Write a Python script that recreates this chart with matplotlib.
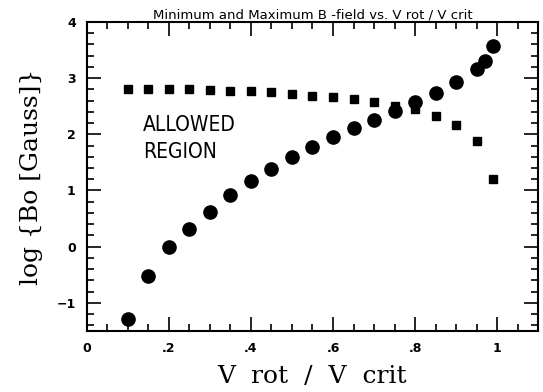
import matplotlib
matplotlib.use("Agg")
import matplotlib.pyplot as plt
from matplotlib.ticker import MultipleLocator, FixedLocator

# data
circ_x = [0.10, 0.15, 0.20, 0.25, 0.30, 0.35, 0.40, 0.45, 0.50, 0.55, 0.60, 0.65,
          0.70, 0.75, 0.80, 0.85, 0.90, 0.95, 0.97, 0.99]
circ_y = [-1.29, -0.52, 0.00, 0.31, 0.61, 0.91, 1.16, 1.38, 1.59, 1.77, 1.95, 2.11,
          2.25, 2.41, 2.57, 2.73, 2.93, 3.16, 3.30, 3.57]
sq_x = [0.10, 0.15, 0.20, 0.25, 0.30, 0.35, 0.40, 0.45, 0.50, 0.55, 0.60, 0.65,
        0.70, 0.75, 0.80, 0.85, 0.90, 0.95, 0.99]
sq_y = [2.81, 2.81, 2.81, 2.80, 2.79, 2.77, 2.77, 2.75, 2.71, 2.69, 2.66, 2.62,
        2.57, 2.50, 2.45, 2.32, 2.16, 1.88, 1.20]
xtick_vals = [0, 0.2, 0.4, 0.6, 0.8, 1.0]
xtick_labels = ["0", ".2", ".4", ".6", ".8", "1"]
ytick_vals = [-1, 0, 1, 2, 3, 4]
ytick_labels = ["\u22121", "0", "1", "2", "3", "4"]

fig = plt.figure(figsize=(5.43, 3.92), dpi=100)
ax = fig.add_axes([0.160, 0.156, 0.831, 0.788])

ax.plot(circ_x, circ_y, 'o', color='black', markersize=9.5, linestyle='none')
ax.plot(sq_x, sq_y, 's', color='black', markersize=6.3, linestyle='none')

ax.set_xlim(0, 1.1)
ax.set_ylim(-1.5, 4)

ax.xaxis.set_major_locator(FixedLocator(xtick_vals))
ax.set_xticklabels(xtick_labels, fontsize=9, fontweight='bold')
ax.xaxis.set_minor_locator(MultipleLocator(0.05))
ax.yaxis.set_major_locator(FixedLocator(ytick_vals))
ax.set_yticklabels(ytick_labels, fontsize=9, fontweight='bold')
ax.yaxis.set_minor_locator(MultipleLocator(0.2))

ax.tick_params(which='both', direction='in', top=True, right=True, width=1.2)
ax.tick_params(which='major', length=10, pad=8)
ax.tick_params(which='minor', length=5)
for s in ax.spines.values():
    s.set_linewidth(1.5)

ax.set_xlabel("V  rot  /  V  crit", fontsize=18, family='DejaVu Serif', labelpad=7)
ax.set_ylabel("log {Bo [Gauss]}", fontsize=18, family='DejaVu Serif', labelpad=10)
ax.set_title("Minimum and Maximum B -field vs. V rot / V crit", fontsize=9.5,
             family='DejaVu Sans', pad=1)

ax.text(0.137, 2.34, "ALLOWED\nREGION", fontsize=15, family='DejaVu Sans',
        stretch='condensed', va='top', ha='left', linespacing=1.45)

fig.savefig("out.png", dpi=100)
